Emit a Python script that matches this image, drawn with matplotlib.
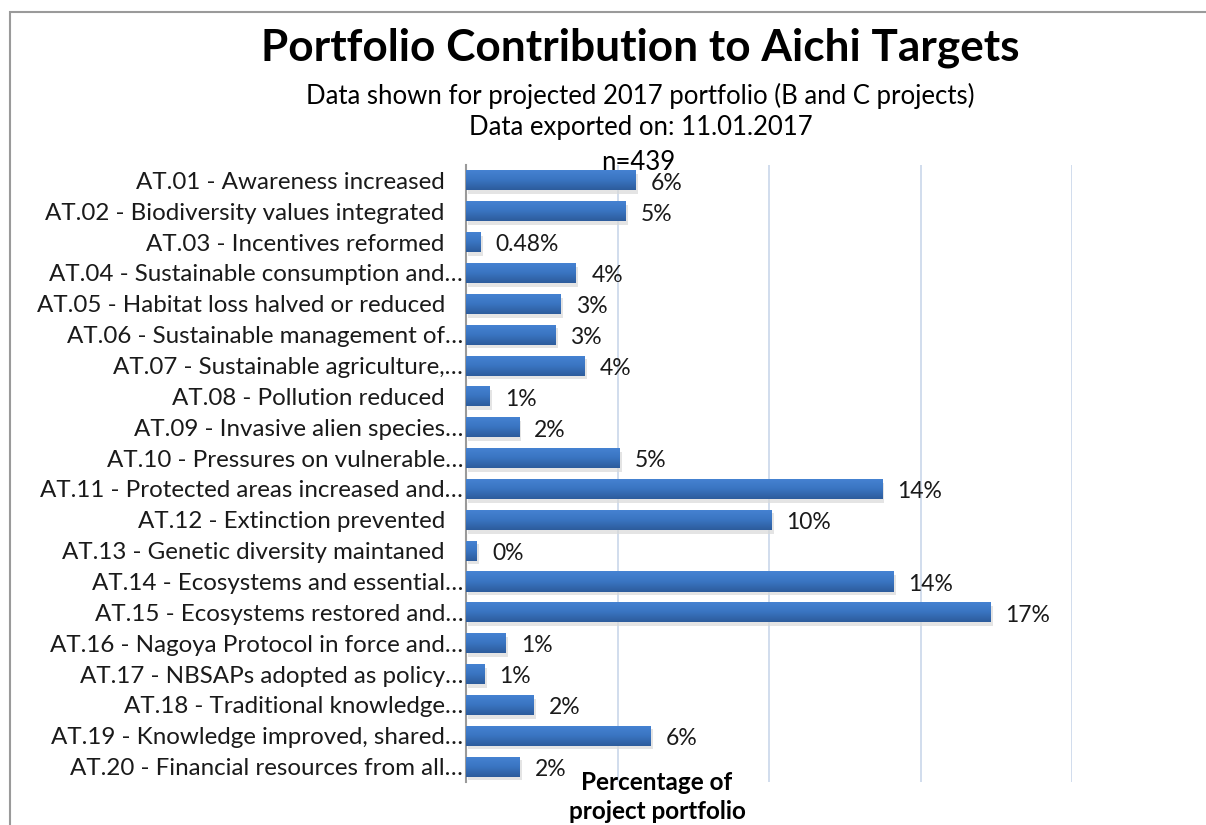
import numpy as np
import matplotlib
matplotlib.use("Agg")
import matplotlib.pyplot as plt
from matplotlib.patches import Rectangle
from matplotlib.colors import LinearSegmentedColormap

plt.rcParams['font.family'] = ['Lato', 'DejaVu Sans']

targets = [
    'AT.01 - Awareness increased   ',
    'AT.02 - Biodiversity values integrated   ',
    'AT.03 - Incentives reformed   ',
    'AT.04 - Sustainable consumption and…',
    'AT.05 - Habitat loss halved or reduced   ',
    'AT.06 - Sustainable management of…',
    'AT.07 - Sustainable agriculture,…',
    'AT.08 - Pollution reduced   ',
    'AT.09 - Invasive alien species…',
    'AT.10 - Pressures on vulnerable…',
    'AT.11 - Protected areas increased and…',
    'AT.12 - Extinction prevented   ',
    'AT.13 - Genetic diversity maintaned   ',
    'AT.14 - Ecosystems and essential…',
    'AT.15 - Ecosystems restored and…',
    'AT.16 - Nagoya Protocol in force and…',
    'AT.17 - NBSAPs adopted as policy…',
    'AT.18 - Traditional knowledge…',
    'AT.19 - Knowledge improved, shared…',
    'AT.20 - Financial resources from all…',
]
share = [5.58, 5.28, 0.48, 3.63, 3.13, 2.94, 3.9, 0.79, 1.75, 5.08,
         13.73, 10.07, 0.36, 14.1, 17.3, 1.32, 0.6, 2.24, 6.1, 1.78]
value_labels = ['6%', '5%', '0.48%', '4%', '3%', '3%', '4%', '1%', '2%', '5%',
                '14%', '10%', '0%', '14%', '17%', '1%', '1%', '2%', '6%', '2%']

fig = plt.figure(figsize=(12.06, 8.25), dpi=100)
ax = fig.add_axes([0.3864, 0.0521, 0.5025, 0.7479])

y = np.arange(len(targets))
bars = ax.barh(y, share, height=0.65, color='#3a73bd', zorder=3)

# excel-like vertical gradient + soft shadow
cmap = LinearSegmentedColormap.from_list('xl', ['#4683d3', '#3a75c2', '#2d5c9c'])
grad = np.linspace(0, 1, 64).reshape(-1, 1)
for b in bars:
    x0, y0, w, h = b.get_x(), b.get_y(), b.get_width(), b.get_height()
    ax.add_patch(Rectangle((x0 + 0.08, y0 + 0.12), w, h, color='#d9d9d9',
                           alpha=0.7, zorder=2, lw=0))
    im = ax.imshow(grad, cmap=cmap, aspect='auto', zorder=4,
                   extent=(x0, x0 + w, y0 + h, y0), interpolation='bilinear')
    im.set_clip_path(b)

for b, lab in zip(bars, value_labels):
    ax.annotate(lab, (b.get_width(), b.get_y() + b.get_height() / 2),
                xytext=(11, -2), textcoords='offset points',
                ha='left', va='center', fontsize=16.5, color='#1a1a1a')

ax.set_xlim(0, 20)
ax.set_ylim(len(targets) - 0.5, -0.5)
ax.set_xticks([0, 5, 10, 15, 20])
ax.set_xticklabels([])
ax.tick_params(axis='x', length=0)
ax.tick_params(axis='y', length=0, pad=2)
ax.set_yticks(y)
ax.set_yticklabels(targets, fontsize=17.4, color='#1a1a1a')
ax.grid(axis='x', color='#c9d7ea', lw=1.2, zorder=0)
for s in ['top', 'right', 'bottom']:
    ax.spines[s].set_visible(False)
ax.spines['left'].set_color('#9a9a9a')
ax.spines['left'].set_linewidth(1.5)

fig.text(0.531, 0.942, 'Portfolio Contribution to Aichi Targets', ha='center',
         va='center', fontsize=31.8, fontweight='bold', color='black')
fig.text(0.531, 0.884, 'Data shown for projected 2017 portfolio (B and C projects)',
         ha='center', va='center', fontsize=18.5)
fig.text(0.531, 0.845, 'Data exported on: 11.01.2017', ha='center', va='center', fontsize=18.5)
fig.text(638 / 1206, 0.803, 'n=439', ha='center', va='center', fontsize=18.5)
fig.text(657 / 1206, 0.034, 'Percentage of\nproject portfolio', ha='center', va='center',
         fontsize=17.5, fontweight='bold', linespacing=1.3)

fig.add_artist(Rectangle((10 / 1206, -0.1), 1.2, 1.1 - 12 / 825,
                         transform=fig.transFigure, fill=False,
                         edgecolor='#9a9a9a', lw=1.5))

fig.savefig('out.png', dpi=100)
